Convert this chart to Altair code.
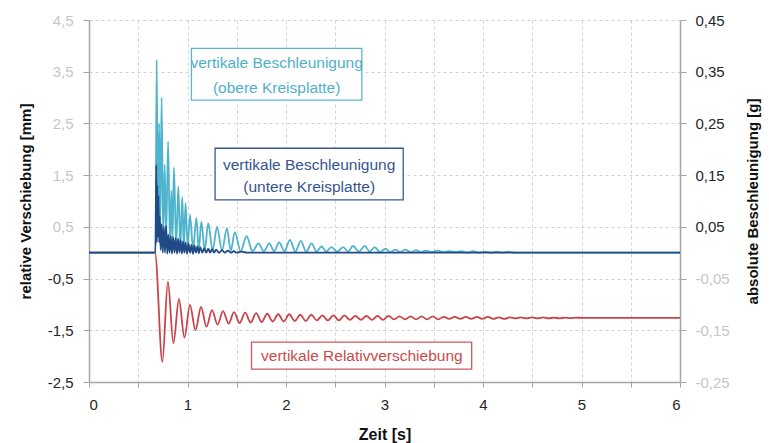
import altair as alt
import pandas as pd

# ---------------- data ----------------
# vertical relative displacement [mm] (left axis) - extrema of the damped wave
red_t = [0.0, 0.670,
         0.745, 0.801, 0.857, 0.913, 0.969, 1.025, 1.081, 1.137, 1.193, 1.249,
         1.305, 1.361, 1.417, 1.473, 1.529, 1.585, 1.641, 1.697, 1.753, 1.809,
         1.865, 1.921, 1.977, 2.033, 2.089, 2.145, 2.201, 2.257, 2.313, 2.369,
         2.425, 2.481, 2.537, 2.593, 2.649, 2.705, 2.761, 2.817, 2.873, 2.929,
         2.985, 3.041, 3.097, 3.153, 3.209, 3.265, 3.321, 3.377, 3.433, 3.489,
         3.545, 3.601, 3.657, 3.713, 3.769, 3.825, 3.881, 3.937, 3.993, 4.049,
         4.105, 4.161, 4.217, 4.273, 4.329, 4.385, 4.441, 4.497, 4.553, 4.609,
         4.665, 4.721, 4.777, 4.833, 4.889, 4.945, 5.001,
         5.300, 6.000]
red_v = [0.0, 0.0,
         -2.11, -0.56, -1.75, -0.90, -1.64, -1.01, -1.50, -1.05, -1.43, -1.11,
         -1.39, -1.13, -1.37, -1.15, -1.36, -1.16, -1.35, -1.17, -1.34, -1.18,
         -1.33, -1.19, -1.33, -1.19, -1.32, -1.20, -1.32, -1.20, -1.31, -1.21,
         -1.31, -1.21, -1.31, -1.21, -1.30, -1.22, -1.30, -1.22, -1.30, -1.22,
         -1.30, -1.22, -1.29, -1.23, -1.29, -1.23, -1.29, -1.23, -1.29, -1.23,
         -1.29, -1.24, -1.28, -1.24, -1.28, -1.24, -1.28, -1.24, -1.28, -1.24,
         -1.28, -1.25, -1.28, -1.25, -1.27, -1.25, -1.27, -1.25, -1.27, -1.25,
         -1.27, -1.255, -1.27, -1.255, -1.265, -1.255, -1.26,
         -1.26, -1.26]

# vertical acceleration, upper plate [g] (right axis)
light_t = [0.0, 0.675, 0.687, 0.699, 0.712, 0.723, 0.737, 0.753, 0.768, 0.783,
           0.803, 0.822, 0.836, 0.847, 0.862, 0.885, 0.907, 0.927, 0.947, 0.963,
           0.980, 1.002, 1.025, 1.057, 1.090, 1.115, 1.140, 1.175, 1.210, 1.255,
           1.300, 1.350, 1.400, 1.440, 1.480, 1.540, 1.600, 1.660, 1.720, 1.775,
           1.830, 1.880, 1.930, 1.985, 2.040, 2.095, 2.150, 2.205, 2.260, 2.310,
           2.360, 2.410, 2.460, 2.520, 2.580, 2.630, 2.680, 2.740, 2.800, 2.850,
           2.900, 2.955, 3.010, 3.060, 3.110, 3.160, 3.210, 3.270, 3.320, 3.370,
           3.420, 3.480, 3.540, 3.600, 3.660, 3.720, 3.780, 3.840, 3.900, 3.960,
           4.020, 4.080, 4.140, 4.200, 4.260, 4.320, 4.500, 6.000]
light_v = [0.0, 0.0, 0.373, 0.06, 0.25, 0.05, 0.30, 0.03, 0.17, 0.03,
           0.215, 0.02, 0.12, 0.02, 0.165, 0.015, 0.128, 0.01, 0.108, 0.01,
           0.096, 0.01, 0.073, 0.008, 0.067, 0.006, 0.060, 0.005, 0.057, 0.005,
           0.050, 0.004, 0.047, 0.004, 0.040, 0.003, 0.032, 0.003, 0.018, 0.003,
           0.018, 0.003, 0.020, 0.003, 0.025, 0.002, 0.023, 0.002, 0.018, 0.002,
           0.012, 0.002, 0.011, 0.002, 0.011, 0.002, 0.013, 0.002, 0.013, 0.002,
           0.011, 0.001, 0.008, 0.001, 0.006, 0.001, 0.006, 0.001, 0.005, 0.001,
           0.004, 0.001, 0.004, 0.001, 0.003, 0.001, 0.003, 0.0, 0.003, 0.0,
           0.002, 0.0, 0.002, 0.0, 0.002, 0.0, 0.0, 0.0]

# vertical acceleration, lower plate [g] (right axis)
dark_t = [0.0, 0.675, 0.683, 0.688, 0.694, 0.700, 0.706, 0.712, 0.719, 0.727,
          0.738, 0.749, 0.760, 0.772, 0.783, 0.795, 0.805, 0.818, 0.830, 0.842,
          0.855, 0.868, 0.880, 0.893, 0.905, 0.918, 0.930, 0.943, 0.955, 0.968,
          0.980, 0.995, 1.010, 1.025, 1.040, 1.055, 1.070, 1.085, 1.100, 1.115,
          1.130, 1.150, 1.170, 1.190, 1.210, 1.230, 1.250, 1.270, 1.290, 1.320,
          1.350, 1.380, 1.410, 1.440, 1.470, 1.500, 1.550, 1.600, 6.000]
dark_v = [0.0, 0.0, 0.170, 0.020, 0.130, 0.030, 0.110, 0.020, 0.070, 0.005,
          0.055, 0.0, 0.050, 0.0, 0.052, -0.002, 0.035, 0.0, 0.032, -0.002,
          0.030, 0.0, 0.028, -0.002, 0.027, 0.0, 0.025, -0.002, 0.022, 0.0,
          0.020, -0.002, 0.018, 0.0, 0.015, -0.002, 0.014, 0.0, 0.012, -0.001,
          0.011, 0.0, 0.009, 0.0, 0.008, 0.0, 0.007, 0.0, 0.006, 0.0,
          0.005, 0.0, 0.004, 0.0, 0.003, 0.0, 0.002, 0.0, 0.0]

# annotation boxes (data units: seconds / mm)
box_x1 = [1.04, 1.28, 1.65]
box_x2 = [2.77, 3.19, 3.885]
box_y1 = [3.95, 2.02, -1.73]
box_y2 = [2.95, 1.02, -2.25]
box_col = ["#5ab7d0", "#3a5a8f", "#d05a5a"]

txt_x = [1.905, 1.905, 2.235, 2.235, 2.77]
txt_y = [3.66, 3.19, 1.70, 1.27, -1.99]
txt_s = ["vertikale Beschleunigung", "(obere Kreisplatte)",
         "vertikale Beschleunigung", "(untere Kreisplatte)",
         "vertikale Relativverschiebung"]
txt_col = ["#4fb0ca", "#4fb0ca", "#34558c", "#34558c", "#cc4a4a"]

x_ticks = [0, 0.5, 1, 1.5, 2, 2.5, 3, 3.5, 4, 4.5, 5, 5.5, 6]
yl_ticks = [-2.5, -1.5, -0.5, 0.5, 1.5, 2.5, 3.5, 4.5]
yr_ticks = [-0.25, -0.15, -0.05, 0.05, 0.15, 0.25, 0.35, 0.45]

# ---------------- chart ----------------
FONT = "Liberation Sans"
DARK = "#262626"
FAINT = "#c6c6c6"
AXC = "#a6a6a6"

red_df = pd.DataFrame({"t": red_t, "v": red_v})
light_df = pd.DataFrame({"t": light_t, "v": light_v})
dark_df = pd.DataFrame({"t": dark_t, "v": dark_v})
box_df = pd.DataFrame({"x1": box_x1, "x2": box_x2, "y1": box_y1, "y2": box_y2, "c": box_col})
txt_df = pd.DataFrame({"x": txt_x, "y": txt_y, "s": txt_s, "c": txt_col})

xs = alt.Scale(domain=[0, 6], nice=False, zero=False)
yls = alt.Scale(domain=[-2.5, 4.5], nice=False, zero=False)
yrs = alt.Scale(domain=[-0.25, 0.45], nice=False, zero=False)

x_axis = alt.Axis(
    title="Zeit [s]", values=x_ticks, grid=True, gridDash=[3, 3], gridColor="#d2d2d2",
    labelExpr="datum.value % 1 === 0 ? toString(datum.value) : ''",
    labelOverlap=False, tickSize=5, tickColor=AXC, domainColor=AXC, domainWidth=1.5,
    labelPadding=10, labelFont=FONT, labelFontSize=15, labelColor=DARK,
    titleFont=FONT, titleFontSize=16, titleFontWeight="bold", titleColor="#111111",
    titlePadding=14,
)
yl_axis = alt.Axis(
    orient="left", title="relative Verschiebung [mm]", values=yl_ticks, grid=True,
    gridDash=[3, 3], gridColor="#d2d2d2",
    labelExpr="replace(toString(datum.value), '.', ',')",
    labelColor={"condition": {"test": "datum.value > 0", "value": FAINT}, "value": DARK},
    labelOverlap=False, tickSize=6, tickColor=AXC, domainColor=AXC, domainWidth=1.5,
    labelPadding=10, labelFont=FONT, labelFontSize=15,
    titleFont=FONT, titleFontSize=15, titleFontWeight="bold", titleColor="#111111",
    titlePadding=14,
)
yr_axis = alt.Axis(
    orient="right", title="absolute Beschleunigung [g]", values=yr_ticks, grid=False,
    labelExpr="replace(toString(datum.value), '.', ',')",
    labelColor={"condition": {"test": "datum.value < 0", "value": FAINT}, "value": DARK},
    labelOverlap=False, tickSize=6, tickColor=AXC, domainColor=AXC, domainWidth=1.5,
    labelPadding=9, labelFont=FONT, labelFontSize=15,
    titleFont=FONT, titleFontSize=15, titleFontWeight="bold", titleColor="#111111",
    titlePadding=31, titleAngle=270,
)

red_line = alt.Chart(red_df).mark_line(color="#c9444a", strokeWidth=1.8, interpolate="monotone").encode(
    x=alt.X("t:Q", scale=xs, axis=x_axis),
    y=alt.Y("v:Q", scale=yls, axis=yl_axis),
)
boxes = alt.Chart(box_df).mark_rect(fill="white", strokeWidth=1.3).encode(
    x=alt.X("x1:Q", scale=xs, axis=x_axis), x2="x2:Q",
    y=alt.Y("y1:Q", scale=yls, axis=yl_axis), y2="y2:Q",
    stroke=alt.Stroke("c:N", scale=None),
)
texts = alt.Chart(txt_df).mark_text(font=FONT, fontSize=15.5, align="center", baseline="middle").encode(
    x=alt.X("x:Q", scale=xs, axis=x_axis),
    y=alt.Y("y:Q", scale=yls, axis=yl_axis),
    text="s:N",
    color=alt.Color("c:N", scale=None),
)
left = alt.layer(red_line, boxes, texts)

light_line = alt.Chart(light_df).mark_line(color="#4eb3cd", strokeWidth=1.8, interpolate="monotone").encode(
    x=alt.X("t:Q", scale=xs, axis=x_axis),
    y=alt.Y("v:Q", scale=yrs, axis=yr_axis),
)
dark_line = alt.Chart(dark_df).mark_line(color="#1f4a86", strokeWidth=1.8, interpolate="monotone").encode(
    x=alt.X("t:Q", scale=xs, axis=x_axis),
    y=alt.Y("v:Q", scale=yrs, axis=yr_axis),
)
right = alt.layer(light_line, dark_line)

chart = alt.layer(left, right).resolve_scale(y="independent").properties(
    width=591, height=362,
    padding={"left": 89, "top": 20, "right": 89, "bottom": 61},
    autosize=alt.AutoSizeParams(type="none"),
    background="white",
).configure_view(stroke=None)

chart.save("out.html", embed_options={"renderer": "svg", "actions": False})
